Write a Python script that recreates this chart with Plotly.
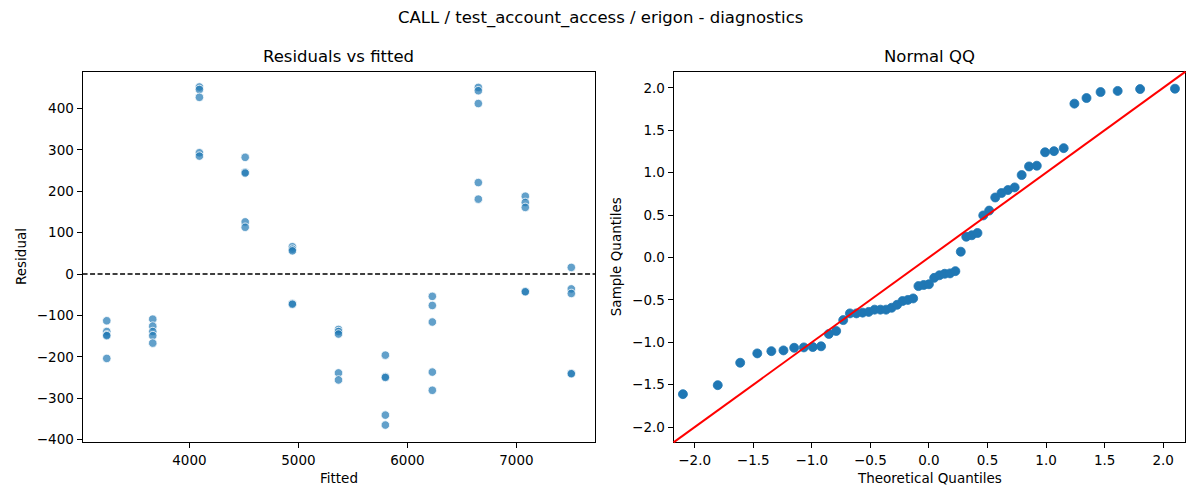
"""
Residual diagnostics for CALL / test_account_access / erigon:
residuals vs fitted values and a normal QQ plot of the residuals.
"""

import math
from statistics import NormalDist

import plotly.graph_objects as go
from plotly.subplots import make_subplots

# fitted value of each group and the residuals observed at that value
fitted_levels = [3242, 3664, 4092, 4512, 4945, 5368, 5798, 6229, 6651, 7082, 7504]
resid_by_level = [
    [-113, -139, -147, -149, -204],
    [-109, -126, -139, -149, -167],
    [452, 446, 427, 293, 285],
    [282, 246, 244, 126, 113],
    [66, 60, 56, -71, -73],
    [-134, -139, -145, -239, -256],
    [-196, -248, -250, -341, -365],
    [-54, -76, -116, -237, -281],
    [451, 443, 412, 221, 181],
    [188, 173, 161, -42, -43],
    [16, -36, -47, -240, -241],
]

resid_x_ticks = [4000, 5000, 6000, 7000]
resid_y_ticks = [-400, -300, -200, -100, 0, 100, 200, 300, 400]
qq_ticks = [-2.0, -1.5, -1.0, -0.5, 0.0, 0.5, 1.0, 1.5, 2.0]

# flatten to point lists
fitted = []
resid = []
for f, rs in zip(fitted_levels, resid_by_level):
    for r in rs:
        fitted.append(f)
        resid.append(r)

# normal QQ (standardised residuals, plotting positions i/(n+1))
n = len(resid)
mu = sum(resid) / n
sd = math.sqrt(sum((r - mu) ** 2 for r in resid) / n)
sample_q = sorted((r - mu) / sd for r in resid)
theo_q = [NormalDist().inv_cdf(i / (n + 1)) for i in range(1, n + 1)]

FONT = "DejaVu Sans"
BLUE = "#1f77b4"

fig = make_subplots(rows=1, cols=2)

fig.add_trace(go.Scatter(
    x=fitted, y=resid, mode="markers",
    marker=dict(size=8.5, color="rgba(31,119,180,0.7)",
                line=dict(color="white", width=0.8)),
    showlegend=False,
), row=1, col=1)

fig.add_trace(go.Scatter(
    x=theo_q, y=sample_q, mode="markers",
    marker=dict(size=9, color=BLUE, line=dict(color=BLUE, width=0.8)),
    showlegend=False,
), row=1, col=2)

# zero line on residual plot, 45 degree line on QQ plot
fig.add_shape(type="line", xref="x domain", yref="y", x0=0, x1=1, y0=0, y1=0,
              line=dict(color="black", width=1.3, dash="5px,2.5px"))
fig.add_shape(type="line", xref="x2 domain", yref="y2 domain", x0=0, y0=0, x1=1, y1=1,
              line=dict(color="red", width=2))

axis_style = dict(
    showline=True, linecolor="black", linewidth=1, mirror=True,
    ticks="outside", ticklen=5, tickwidth=1, tickcolor="black",
    showgrid=False, zeroline=False,
    tickfont=dict(family=FONT, size=13.5, color="black"),
)

fig.update_xaxes(axis_style)
fig.update_yaxes(axis_style)

fig.update_xaxes(domain=[0.0688, 0.4958], range=[3020, 7721],
                 tickvals=resid_x_ticks, row=1, col=1)
fig.update_yaxes(domain=[0.1062, 0.8552], range=[-407, 489],
                 tickvals=resid_y_ticks, row=1, col=1)
fig.update_xaxes(domain=[0.5613, 0.9879], range=[-2.18, 2.19],
                 tickvals=qq_ticks, tickformat=".1f", row=1, col=2)
fig.update_yaxes(domain=[0.1062, 0.8552], range=[-2.18, 2.19],
                 tickvals=qq_ticks, tickformat=".1f", row=1, col=2)

texts = [
    ("CALL / test_account_access / erigon - diagnostics", 0.5, 0.9636, 16.5, 0),
    ("Residuals vs fitted", 0.2823, 0.8866, 16.5, 0),
    ("Normal QQ", 0.7746, 0.8866, 16.5, 0),
    ("Fitted", 0.2823, 0.0344, 13.5, 0),
    ("Theoretical Quantiles", 0.7746, 0.0344, 13.5, 0),
    ("Residual", 0.0175, 0.4808, 13.5, -90),
    ("Sample Quantiles", 0.5135, 0.4808, 13.5, -90),
]
for t, x, y, size, angle in texts:
    fig.add_annotation(text=t, x=x, y=y, xref="paper", yref="paper",
                       xanchor="center", yanchor="middle", showarrow=False,
                       textangle=angle,
                       font=dict(family=FONT, size=size, color="black"))

fig.update_layout(
    width=1200, height=500,
    margin=dict(l=0, r=0, t=0, b=0),
    paper_bgcolor="white", plot_bgcolor="white",
    font=dict(family=FONT, color="black"),
)

# page should be exactly the 1200x500 figure: no body margin, no scrolling
page_fix = (
    "document.body.style.margin = '0';"
    "document.body.style.overflow = 'hidden';"
    "document.documentElement.style.overflow = 'hidden';"
)
fig.write_html("out.html", post_script=page_fix,
               config={"displayModeBar": False})
